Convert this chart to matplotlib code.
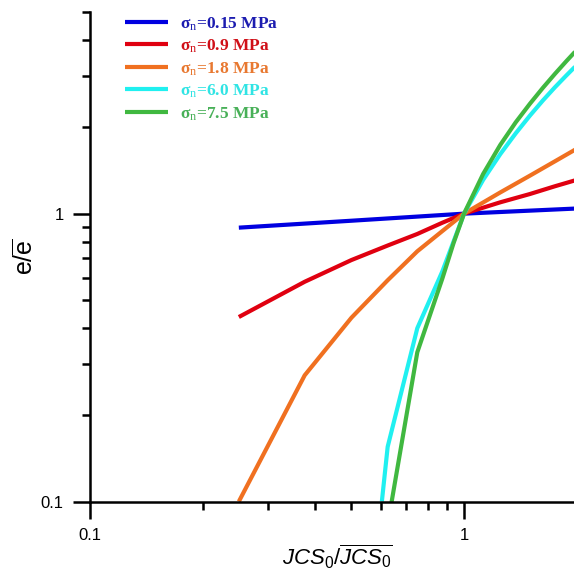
import matplotlib
matplotlib.use('Agg')
import matplotlib.pyplot as plt

# data (log-log)
x_015 = [0.25, 0.5, 1.0, 2.0]
y_015 = [0.894, 0.945, 1.0, 1.042]

x_09 = [0.25, 0.375, 0.5, 0.625, 0.75, 0.875, 1.0, 1.25, 1.5, 1.75, 2.0]
y_09 = [0.4375, 0.58, 0.69, 0.775, 0.85, 0.93, 1.0, 1.095, 1.17, 1.245, 1.31]

x_18 = [0.25, 0.375, 0.5, 0.625, 0.75, 0.875, 1.0, 1.25, 1.5, 1.75, 2.0]
y_18 = [0.1, 0.2745, 0.435, 0.587, 0.74, 0.87, 1.0, 1.185, 1.355, 1.52, 1.68]

x_60 = [0.603, 0.625, 0.75, 0.875, 0.9375, 1.0, 1.125, 1.25, 1.375, 1.5, 1.625, 1.75, 1.875, 2.0]
y_60 = [0.1, 0.155, 0.40, 0.63, 0.80, 1.0, 1.311, 1.61, 1.902, 2.19, 2.473, 2.748, 3.015, 3.28]

x_75 = [0.625, 0.75, 0.875, 0.9375, 1.0, 1.125, 1.25, 1.375, 1.5, 1.625, 1.75, 1.875, 2.0]
y_75 = [0.083, 0.33, 0.595, 0.79, 1.0, 1.374, 1.733, 2.077, 2.408, 2.736, 3.059, 3.38, 3.70]

labels = ['σ$_{\\mathsf{n}}$=0.15 MPa', 'σ$_{\\mathsf{n}}$=0.9 MPa', 'σ$_{\\mathsf{n}}$=1.8 MPa',
          'σ$_{\\mathsf{n}}$=6.0 MPa', 'σ$_{\\mathsf{n}}$=7.5 MPa']
line_colors = ['#0000e0', '#e00010', '#f07020', '#20f0f0', '#40b840']
text_colors = ['#1c1cb0', '#d01018', '#e87830', '#30e4e4', '#48b058']

plt.rcParams['font.family'] = 'Liberation Sans'
plt.rcParams['mathtext.fontset'] = 'custom'
plt.rcParams['mathtext.rm'] = 'Liberation Sans'
plt.rcParams['mathtext.it'] = 'Liberation Sans:italic'
plt.rcParams['mathtext.bf'] = 'Liberation Sans:bold'
plt.rcParams['mathtext.sf'] = 'Liberation Serif'

fig = plt.figure(figsize=(5.74, 5.76), dpi=100)
ax = fig.add_axes([0.1568, 0.1293, 0.8432, 0.8491])

series = [(x_015, y_015), (x_09, y_09), (x_18, y_18), (x_60, y_60), (x_75, y_75)]
for (xs, ys), lab, c in zip(series, labels, line_colors):
    ax.plot(xs, ys, color=c, linewidth=3, label=lab, solid_capstyle='butt')

ax.set_xscale('log')
ax.set_yscale('log')
ax.set_xlim(0.1, 1.968)
ax.set_ylim(0.1, 5.0)

ax.spines['top'].set_visible(False)
ax.spines['right'].set_visible(False)
for s in ['left', 'bottom']:
    ax.spines[s].set_linewidth(1.8)

ax.set_xticks([0.1, 1])
ax.set_xticklabels(['0.1', '1'])
ax.set_yticks([0.1, 1])
ax.set_yticklabels(['0.1', '1'])
ax.tick_params(which='major', length=12, width=1.8, labelsize=12)
ax.tick_params(which='minor', length=6, width=1.8)
ax.tick_params(axis='x', which='major', pad=7)
ax.tick_params(axis='y', which='major', pad=7)

ax.set_xlabel(r'$JCS_0/\overline{JCS_0}$', fontsize=16)
ax.set_ylabel(r'$\mathrm{e}/\overline{\mathrm{e}}$', fontsize=18)
ax.xaxis.set_label_coords(0.512, -0.085)
ax.yaxis.set_label_coords(-0.108, 0.5)

leg = ax.legend(loc='upper left', bbox_to_anchor=(0.072, 0.995), frameon=False,
                prop={'family': 'Liberation Serif', 'weight': 'bold', 'size': 12.5},
                handlelength=2.48, handletextpad=0.69, labelspacing=0.28,
                borderpad=0, borderaxespad=0)
for t, c in zip(leg.get_texts(), text_colors):
    t.set_color(c)

fig.savefig('out.png', dpi=100)
